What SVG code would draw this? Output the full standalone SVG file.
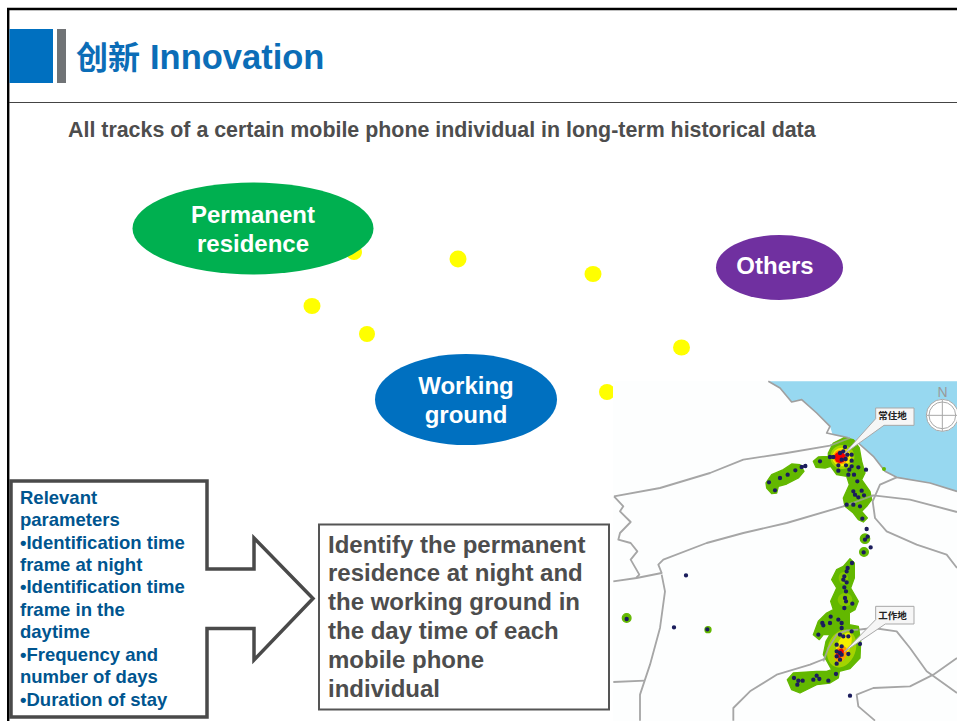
<svg xmlns="http://www.w3.org/2000/svg" width="957" height="721" viewBox="0 0 957 721">
<defs>
<style>
text{font-family:"Liberation Sans","Noto Sans CJK SC",Arial,sans-serif;font-weight:700}
.el{fill:#fff;font-size:24px;text-anchor:middle}
.par{fill:#00558f;font-size:18.500px}
.res{fill:#4d4d4d;font-size:24px}
.y{fill:#ffff00}
.road{fill:none;stroke:#a6a6a6;stroke-width:5.500;stroke-linejoin:round}
.g{fill:#63b800;stroke:#63b800;stroke-width:4;stroke-linejoin:round}
.lab{fill:#f6f6f6;stroke:#a8a8a8;stroke-width:3}
.lt{fill:#222;font-size:9.500px;text-anchor:middle}
</style>
<filter id="soft" x="-5%" y="-5%" width="110%" height="110%"><feGaussianBlur stdDeviation="1.500"/></filter>
</defs>

<rect width="957" height="721" fill="#fff"/>
<g id="frame" fill="none" stroke="#000" stroke-width="2.400"><path d="M8.200 721V9H957"/></g>

<g id="header">
<rect x="9.500" y="29" width="43.500" height="54" fill="#0070c0"/>
<rect x="57" y="29" width="9" height="54" fill="#707376"/>
<text x="76" y="69" fill="#0b6db7" font-size="32">创新<tspan x="150" font-size="34.500">Innovation</tspan></text>
<line x1="9" y1="102.500" x2="957" y2="102.500" stroke="#444" stroke-width="1"/>
<text x="68" y="137" font-size="21.400" fill="#4d4d4d">All tracks of a certain mobile phone individual in long-term historical data</text>
</g>

<g id="track-points">
<ellipse class="y" cx="354" cy="252" rx="8" ry="8"/>
<ellipse class="y" cx="458" cy="259" rx="8.500" ry="8.500"/>
<ellipse class="y" cx="593" cy="274" rx="8.500" ry="8"/>
<ellipse class="y" cx="312" cy="306" rx="8.500" ry="8"/>
<ellipse class="y" cx="367" cy="334" rx="8" ry="8"/>
<ellipse class="y" cx="681.500" cy="347.500" rx="8.500" ry="8"/>
<ellipse class="y" cx="607" cy="392" rx="8" ry="8"/>
</g>

<g id="node-permanent">
<ellipse cx="253" cy="228.500" rx="120.500" ry="46" fill="#00b050"/>
<text class="el" x="253" y="223">Permanent</text>
<text class="el" x="253" y="252">residence</text>
</g>
<g id="node-working">
<ellipse cx="466" cy="399.500" rx="91" ry="45.500" fill="#0070c0"/>
<text class="el" x="466" y="394">Working</text>
<text class="el" x="466" y="423">ground</text>
</g>
<g id="node-others">
<ellipse cx="779.500" cy="267.500" rx="63.500" ry="32.500" fill="#7030a0"/>
<text class="el" x="775" y="274">Others</text>
</g>

<g id="map">
<rect x="613" y="381" width="344" height="340" fill="#fdfefe"/>
<g transform="translate(610 378) scale(.33333)" filter="url(#soft)">
<path fill="#97d8f0" d="M475 10L510 30L545 72L575 65L620 105L660 145L668 170L710 178L745 195L790 235L825 280L860 298L960 315L1041 340V10Z"/>
<path fill="none" stroke="#a0a0a0" stroke-width="5" stroke-linejoin="round" d="M475 10L510 30L545 72L575 65L620 105L660 145L650 165L710 178L745 195L790 235L825 280L860 298L960 315L1041 340"/>
<g class="roads">
<path class="road" d="M12 355L150 330L300 285L400 245L530 225L660 203L720 180"/>
<path class="road" d="M12 355L40 385L30 400L62 432L30 465L25 485L62 495L82 520L62 545L88 590L78 600"/>
<path class="road" d="M10 610L80 600L155 585L145 560L160 545L290 495L400 465L530 435L700 385L790 352L900 365L1041 402"/>
<path class="road" d="M155 590L165 640L150 750L120 860L90 950L90 1028"/>
<path class="road" d="M10 912L105 908"/>
<path class="road" d="M860 298L810 320L788 370L795 420L830 460L920 500L1010 530L1041 570"/>
<path class="road" d="M370 1028L370 990L420 940L500 890L600 860L650 840L670 790L700 760L790 750L860 760L900 810L950 880L1041 945"/>
<path class="road" d="M795 1028L745 985L740 950L790 930L900 925L970 890L1041 840"/>
</g>
<g id="density">
<path class="g" d="M655 225L670 195L700 180L730 185L748 210L755 250L765 285L755 305L780 340L785 365L770 385L755 400L772 420L760 432L745 425L730 405L705 385L700 360L718 320L710 295L680 290L662 265L645 270L618 268L610 250L625 237L655 235Z"/>
<path class="g" d="M468 315L485 290L520 275L545 258L570 260L582 280L565 300L530 318L505 325L500 345L485 347L470 330Z"/>
<path class="g" d="M720 542L733 555L733 600L722 630L745 670L735 695L718 705L718 740L745 745L752 790L750 840L720 872L688 880L685 900L660 915L620 920L570 945L545 935L532 905L550 885L620 880L650 880L665 875L640 830L648 790L660 770L640 770L628 785L610 770L625 730L650 705L670 695L662 670L680 630L665 605L680 575L700 565Z"/>
<circle class="g" cx="765" cy="482" r="14"/><circle class="g" cx="762" cy="522" r="13"/>
<circle class="g" cx="50" cy="720" r="13"/><circle class="g" cx="294" cy="755" r="9"/><circle cx="822" cy="273" r="6" fill="#63b800"/>
<ellipse cx="705" cy="665" rx="22" ry="20" fill="#86c800"/><ellipse cx="700" cy="600" rx="14" ry="18" fill="#86c800"/>
</g>
<g id="heat">
<circle cx="697" cy="237" r="36" fill="#a4d400"/>
<circle cx="695" cy="237" r="28" fill="#f4ee00"/>
<circle cx="692" cy="237" r="22" fill="#ff9a00"/>
<circle cx="690" cy="238" r="17" fill="#f20000"/>
<ellipse cx="695" cy="812" rx="42" ry="58" transform="rotate(20 695 812)" fill="#a4d400"/>
<ellipse cx="700" cy="808" rx="20" ry="46" transform="rotate(22 700 808)" fill="#f4ee00"/>
<ellipse cx="692" cy="828" rx="18" ry="26" transform="rotate(25 692 828)" fill="#ff9a00"/>
<ellipse cx="690" cy="826" rx="10" ry="15" transform="rotate(30 690 826)" fill="#f20000"/>
</g>
<path class="road" stroke-opacity=".85" d="M640 850L655 810L680 770L710 757L745 755"/>
<path class="road" stroke-opacity=".7" d="M660 203L720 180M700 385L790 352"/>
<path fill="none" stroke="#1a1f5c" stroke-width="13" stroke-linecap="round" d="M477 313h0M495 337h0M510 300h0M533 290h0M556 277h0M575 267h0M586 264h0M630 250h0M660 237h0M670 237h0M705 207h0M690 225h0M700 220h0M712 230h0M725 230h0M695 245h0M707 243h0M725 248h0M685 262h0M708 262h0M725 265h0M745 268h0M768 275h0M685 278h0M718 275h0M715 290h0M732 290h0M742 310h0M730 340h0M735 350h0M755 338h0M745 358h0M762 352h0M730 380h0M710 380h0M750 385h0M757 422h0M770 453h0M773 476h0M765 485h0M782 508h0M761 523h0M726 555h0M713 570h0M710 580h0M703 595h0M700 605h0M710 613h0M703 628h0M708 640h0M705 660h0M708 670h0M703 690h0M727 677h0M662 716h0M685 725h0M695 735h0M637 735h0M640 742h0M660 735h0M695 750h0M690 770h0M625 770h0M725 760h0M715 775h0M700 775h0M680 800h0M695 805h0M750 798h0M680 820h0M690 825h0M680 835h0M690 845h0M680 857h0M695 830h0M715 828h0M678 888h0M620 893h0M628 903h0M610 905h0M655 908h0M552 900h0M565 908h0M578 908h0M562 920h0M720 953h0M228 592h0M192 748h0M292 754h0M50 723h0"/>
<path class="lab" d="M797 90H912V142H822L702 228L797 122Z"/>
<path class="lab" d="M797 685H912V738H826L702 822L797 725Z"/>
<g fill="#fff" stroke="#a8a8a8" stroke-width="3">
<circle cx="997" cy="112" r="48"/><circle cx="997" cy="112" r="40"/>
<path d="M997 65V159M950 112H1044" fill="none"/>
</g>
</g>
<text class="lt" x="892.500" y="419">常住地</text>
<text class="lt" x="892.500" y="619">工作地</text>
<text x="942.500" y="397" font-size="14" fill="#9a9a9a" text-anchor="middle" style="font-weight:400">N</text>
</g>

<g id="node-parameters">
<path fill="#fff" stroke="#4a4a4a" stroke-width="3.500" d="M11 481H207V569H254V538L313 598.500L254 660V628.500H207V717H11Z"/>
<text class="par" x="20" y="504">Relevant</text>
<text class="par" x="20" y="526">parameters</text>
<text class="par" x="20" y="549">•Identification time</text>
<text class="par" x="20" y="571">frame at night</text>
<text class="par" x="20" y="593">•Identification time</text>
<text class="par" x="20" y="616">frame in the</text>
<text class="par" x="20" y="638">daytime</text>
<text class="par" x="20" y="661">•Frequency and</text>
<text class="par" x="20" y="683">number of days</text>
<text class="par" x="20" y="706">•Duration of stay</text>
</g>

<g id="node-result">
<rect x="319" y="524.500" width="290" height="185" fill="#fff" stroke="#555" stroke-width="2"/>
<text class="res" x="328" y="553">Identify the permanent</text>
<text class="res" x="328" y="581">residence at night and</text>
<text class="res" x="328" y="610">the working ground in</text>
<text class="res" x="328" y="639">the day time of each</text>
<text class="res" x="328" y="668">mobile phone</text>
<text class="res" x="328" y="697">individual</text>
</g>
</svg>
